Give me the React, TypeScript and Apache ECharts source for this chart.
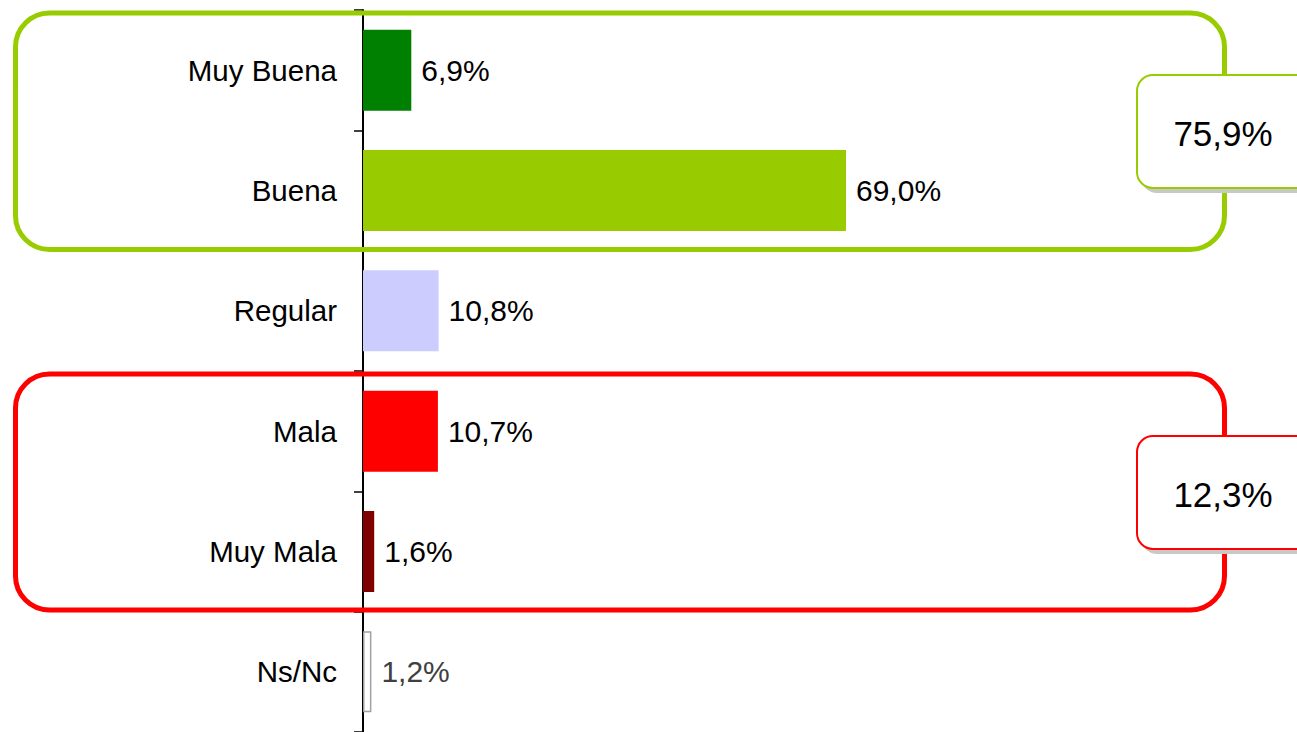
import React, { useEffect, useRef } from "react";
import * as echarts from "echarts";

const categories = ["Muy Buena", "Buena", "Regular", "Mala", "Muy Mala", "Ns/Nc"];
const values = [6.9, 69.0, 10.8, 10.7, 1.6, 1.2];
const barColors = ["#008000", "#99CC00", "#CCCCFF", "#FF0000", "#800000", "#FFFFFF"];
const positiveGroup = [0, 1];
const negativeGroup = [3, 4];

const fmt = (v: number) => v.toFixed(1).replace(".", ",") + "%";
const sumOf = (idx: number[]) => idx.reduce((s, i) => s + values[i], 0);

export default function App() {
  const ref = useRef<HTMLDivElement>(null);
  useEffect(() => {
    document.body.style.margin = "0";
    const chart = echarts.init(ref.current!, null, { renderer: "svg" });
    const font = "'Liberation Sans', Arial, sans-serif";
    const groupBox = (y: number, h: number, color: string) => ({
      type: "rect",
      z: 100,
      shape: { x: 15.5, y, width: 1209, height: h, r: 34 },
      style: { fill: "none", stroke: color, lineWidth: 5 },
    });
    const calloutBox = (y: number, color: string, text: string) => [
      {
        type: "rect",
        z: 101,
        shape: { x: 1141, y: y + 5, width: 200, height: 113, r: 16 },
        style: { fill: "#C8C8C8" },
      },
      {
        type: "rect",
        z: 102,
        shape: { x: 1137, y, width: 200, height: 113, r: 16 },
        style: { fill: "#FFFFFF", stroke: color, lineWidth: 2 },
      },
      {
        type: "text",
        z: 103,
        x: 1223,
        y: y + 58,
        style: {
          text,
          fill: "#000000",
          font: `35px ${font}`,
          textAlign: "center",
          textVerticalAlign: "middle",
        },
      },
    ];
    chart.setOption({
      animation: false,
      grid: { left: 363, top: 10, width: 700, height: 724 },
      xAxis: {
        type: "value",
        min: 0,
        max: 100,
        show: false,
      },
      yAxis: {
        type: "category",
        data: categories,
        inverse: true,
        axisLine: { show: true, lineStyle: { color: "#000000", width: 2 } },
        axisTick: { show: true, length: 9, lineStyle: { color: "#000000", width: 1.5 } },
        axisLabel: {
          color: "#000000",
          fontSize: 29.5,
          fontFamily: font,
          margin: 26,
        },
        splitLine: { show: false },
      },
      series: [
        {
          type: "bar",
          barWidth: 81,
          data: values.map((v, i) => ({
            value: v,
            itemStyle: {
              color: barColors[i],
              borderColor: i === 5 ? "#A0A0A0" : barColors[i],
              borderWidth: i === 5 ? 1.5 : 0,
            },
            label: { color: i === 5 ? "#404040" : "#000000" },
          })),
          label: {
            show: true,
            position: "right",
            distance: 10,
            fontSize: 30,
            fontFamily: font,
            formatter: (p: any) => fmt(p.value),
          },
        },
      ],
      graphic: [
        groupBox(13, 236.5, "#99CC00"),
        groupBox(374, 236, "#FF0000"),
        ...calloutBox(75, "#99CC00", fmt(sumOf(positiveGroup))),
        ...calloutBox(436, "#FF0000", fmt(sumOf(negativeGroup))),
      ],
    });
    return () => chart.dispose();
  }, []);
  return (
    <div
      ref={ref}
      style={{ position: "fixed", left: 0, top: 0, width: 1297, height: 732, background: "#fff" }}
    />
  );
}
